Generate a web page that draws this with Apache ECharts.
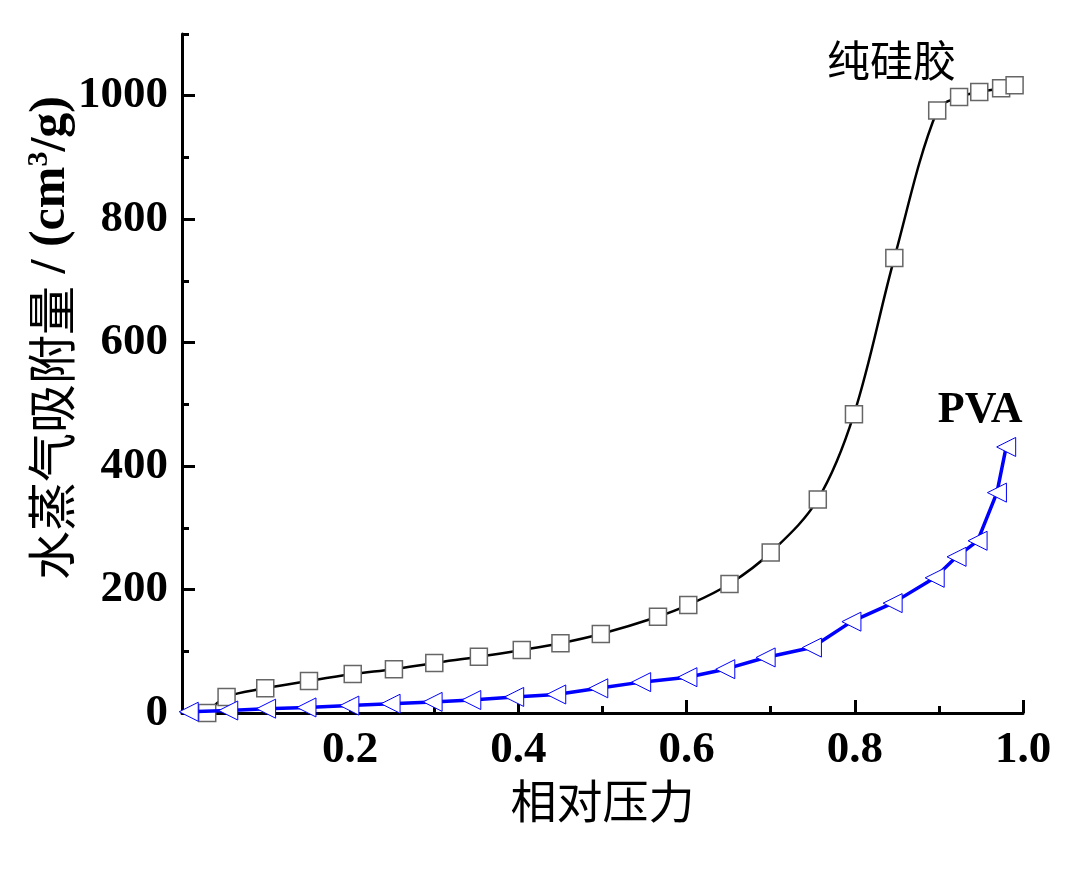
<!DOCTYPE html>
<html>
<head>
<meta charset="utf-8">
<script src="https://cdn.jsdelivr.net/npm/echarts@6/dist/echarts.min.js"></script>
<style>
html,body{margin:0;padding:0;background:#fff;}
#c{width:1074px;height:871px;}
</style>
</head>
<body>
<div id="c"></div>
<script>
// Data
const silicaX = [0.030, 0.053, 0.099, 0.151, 0.203, 0.252, 0.300, 0.353, 0.404, 0.450, 0.498, 0.566, 0.602, 0.651, 0.700, 0.756, 0.799, 0.847, 0.898, 0.924, 0.948, 0.974, 0.990];
const silicaY = [0, 26, 40, 52, 63, 71, 81, 91, 102, 113, 128, 156, 175, 209, 260, 346, 484, 737, 976, 998, 1006, 1012, 1017];
const pvaX = [0.008, 0.055, 0.100, 0.148, 0.199, 0.248, 0.298, 0.344, 0.395, 0.445, 0.495, 0.546, 0.601, 0.646, 0.694, 0.749, 0.796, 0.845, 0.895, 0.921, 0.946, 0.969, 0.980];
const pvaY = [2, 4, 7, 9, 12, 15, 18, 21, 26, 30, 40, 50, 58, 71, 90, 106, 148, 178, 219, 253, 279, 357, 431];
const yMajorTicks = [0, 200, 400, 600, 800, 1000];
const yMinorTicks = [100, 300, 500, 700, 900, 1100];
const silicaName = '纯硅胶';
const pvaName = 'PVA';
const xAxisName = '相对压力';

const serif = '"Liberation Serif", "Times New Roman", serif';
const cjk = '"Noto Sans CJK SC", sans-serif';

function build(xs, ys, lastLabel) {
  return xs.map((x, i) => {
    const item = { value: [x, ys[i]] };
    if (i === xs.length - 1) item.label = lastLabel;
    return item;
  });
}

const chart = echarts.init(document.getElementById('c'), null, { renderer: 'canvas' });
chart.setOption({
  backgroundColor: '#ffffff',
  animation: false,
  grid: { left: 182, right: 51, top: 34, bottom: 158 },
  xAxis: {
    type: 'value', min: 0, max: 1, interval: 0.2,
    name: xAxisName, nameLocation: 'middle', nameGap: 63,
    nameTextStyle: { fontFamily: cjk, fontSize: 46, color: '#000' },
    axisLine: { show: true, onZero: false, lineStyle: { color: '#000', width: 3 } },
    axisTick: { show: true, inside: true, length: 13, lineStyle: { color: '#000', width: 3 } },
    minorTick: { show: true, splitNumber: 2, length: 7, lineStyle: { color: '#000', width: 3 } },
    axisLabel: {
      margin: 15, color: '#000', fontFamily: serif, fontWeight: 'bold', fontSize: 45,
      formatter: v => (v === 0 ? '' : v.toFixed(1))
    },
    splitLine: { show: false }
  },
  yAxis: [{
    type: 'value', min: 0, max: 1100,
    axisLine: { show: true, onZero: false, lineStyle: { color: '#000', width: 3 } },
    axisTick: { show: true, inside: true, length: 13, customValues: yMajorTicks, lineStyle: { color: '#000', width: 3 } },
    axisLabel: {
      margin: 14, color: '#000', fontFamily: serif, fontWeight: 'bold', fontSize: 45,
      customValues: yMajorTicks,
      formatter: v => String(v)
    },
    splitLine: { show: false }
  }, {
    type: 'value', min: 0, max: 1100, position: 'left', offset: 0,
    axisLine: { show: false },
    axisTick: { show: true, inside: true, length: 7, customValues: yMinorTicks, lineStyle: { color: '#000', width: 3 } },
    axisLabel: { show: false },
    splitLine: { show: false }
  }],
  graphic: [{
    type: 'text',
    x: 51, y: 338,
    rotation: Math.PI / 2,
    style: {
      text: '{a|水蒸气吸附量}{b| / (cm}{s|3}{b|/g)}',
      align: 'center', verticalAlign: 'middle',
      fill: '#000',
      rich: {
        a: { fontFamily: cjk, fontSize: 49, fill: '#000', lineHeight: 54 },
        b: { fontFamily: serif, fontWeight: 'bold', fontSize: 50, fill: '#000', lineHeight: 54 },
        s: { fontFamily: serif, fontWeight: 'bold', fontSize: 30, fill: '#000', lineHeight: 54, verticalAlign: 'top', padding: [0, 0, 16, 0] }
      }
    }
  }],
  series: [{
    name: silicaName,
    type: 'line',
    yAxisIndex: 0,
    smooth: 0.35,
    data: build(silicaX, silicaY, {
      show: true, position: 'inside', offset: [-123, -25], formatter: silicaName,
      fontFamily: cjk, fontSize: 43, color: '#000'
    }),
    lineStyle: { color: '#000', width: 2.5 },
    symbol: 'rect', symbolSize: 17,
    itemStyle: { color: '#ffffff', borderColor: '#666666', borderWidth: 1.5 },
    z: 2
  }, {
    name: pvaName,
    type: 'line',
    yAxisIndex: 0,
    smooth: false,
    data: build(pvaX, pvaY, {
      show: true, position: 'inside', offset: [-26, -36], formatter: pvaName,
      fontFamily: serif, fontWeight: 'bold', fontSize: 44, color: '#000'
    }),
    lineStyle: { color: '#0000ff', width: 3.5 },
    symbol: 'triangle', symbolSize: [19, 19], symbolRotate: 90,
    itemStyle: { color: '#ffffff', borderColor: '#0000ff', borderWidth: 1 },
    z: 3
  }]
});
</script>
</body>
</html>
